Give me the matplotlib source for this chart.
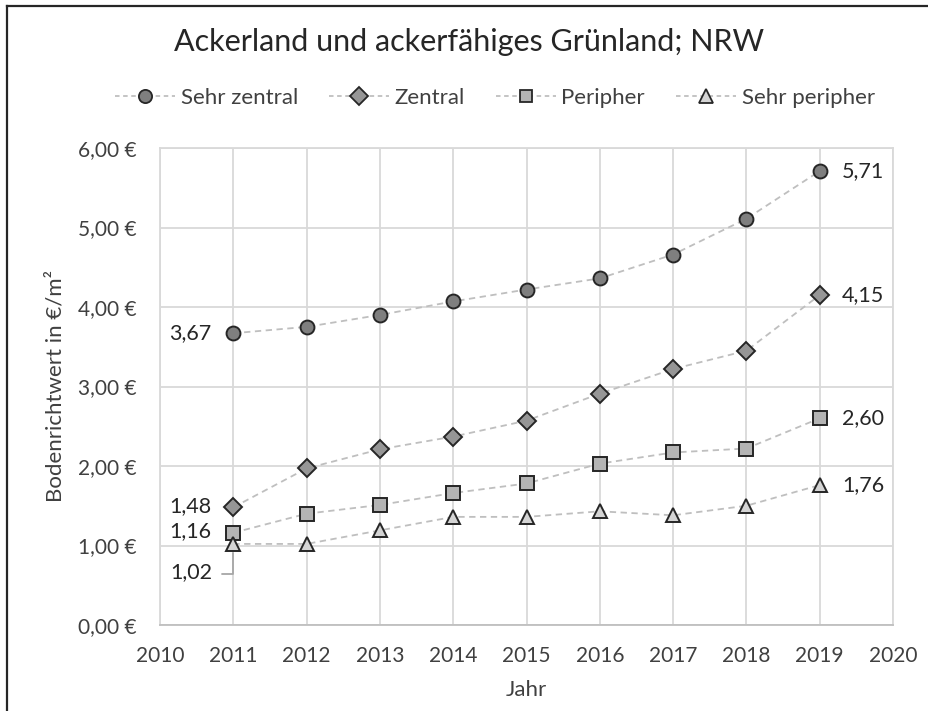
import matplotlib
matplotlib.use('Agg')
import matplotlib.pyplot as plt
from matplotlib.lines import Line2D

plt.rcParams['font.family'] = ['Lato', 'DejaVu Sans']

jahre = [2011, 2012, 2013, 2014, 2015, 2016, 2017, 2018, 2019]
sehr_zentral = [3.67, 3.75, 3.90, 4.07, 4.22, 4.36, 4.66, 5.11, 5.71]
zentral = [1.48, 1.97, 2.21, 2.37, 2.57, 2.91, 3.22, 3.45, 4.15]
peripher = [1.16, 1.40, 1.51, 1.66, 1.78, 2.03, 2.17, 2.22, 2.60]
sehr_peripher = [1.02, 1.02, 1.19, 1.36, 1.36, 1.43, 1.38, 1.50, 1.76]

namen = ['Sehr zentral', 'Zentral', 'Peripher', 'Sehr peripher']
x_ticks = list(range(2010, 2021))
y_ticks = [0, 1, 2, 3, 4, 5, 6]

text_col = '#404040'
grid_col = '#d9d9d9'
line_col = '#bfbfbf'
edge_col = '#262626'

fig = plt.figure(figsize=(9.29, 7.11), dpi=100)
ax = fig.add_axes([160/929, 86/711, 733/929, 477/711])

stile = [
    (sehr_zentral, 'o', '#7f7f7f', 10),
    (zentral, 'D', '#969696', 9.5),
    (peripher, 's', '#b4b4b4', 9.5),
    (sehr_peripher, '^', '#d4d4d4', 10.5),
]

handles = []
for (werte, m, fc, ms), name in zip(stile, namen):
    ax.plot(jahre, werte, linestyle=(0, (3.5, 2.5)), color=line_col, lw=1.3,
            marker=m, markersize=ms, markerfacecolor=fc,
            markeredgecolor=edge_col, markeredgewidth=1.4, zorder=3)
    handles.append(Line2D([0], [0], linestyle=(0, (2.5, 2)), color=line_col, lw=1.3,
                          marker=m, markersize=ms * 0.95, markerfacecolor=fc,
                          markeredgecolor=edge_col, markeredgewidth=1.3, label=name))

ax.set_xlim(2010, 2020)
ax.set_ylim(0, 6)
ax.set_xticks(x_ticks)
ax.set_yticks(y_ticks)
ax.set_yticklabels([f'{v:.2f} €'.replace('.', ',') for v in y_ticks])
ax.tick_params(length=0, labelsize=15, colors=text_col)
ax.tick_params(axis='y', pad=17)
ax.tick_params(axis='x', pad=15)
ax.grid(True, color=grid_col, lw=1.3)
ax.set_axisbelow(True)
for s in ['top', 'right', 'left']:
    ax.spines[s].set_color(grid_col)
    ax.spines[s].set_linewidth(1.3)
ax.spines['bottom'].set_color('#bfbfbf')
ax.spines['bottom'].set_linewidth(1.3)

ax.set_xlabel('Jahr', fontsize=16, color=text_col, labelpad=10)
ax.set_ylabel('Bodenrichtwert in €/m²', fontsize=16, color=text_col, labelpad=9)

def fmt(v):
    return f'{v:.2f}'.replace('.', ',')

lab = dict(fontsize=15.5, color=edge_col, va='center')
# Werte am Anfang (links)
ax.annotate(fmt(sehr_zentral[0]), (jahre[0], sehr_zentral[0]), xytext=(-16, 0),
            textcoords='offset points', ha='right', **lab)
ax.annotate(fmt(zentral[0]), (jahre[0], zentral[0]), xytext=(-16, 1),
            textcoords='offset points', ha='right', **lab)
ax.annotate(fmt(peripher[0]), (jahre[0], peripher[0]), xytext=(-16, 1),
            textcoords='offset points', ha='right', **lab)
ax.annotate(fmt(sehr_peripher[0]), (jahre[0], sehr_peripher[0]), xytext=(-15, -20),
            textcoords='offset points', ha='right', **lab)
# Fuehrungslinie zu 1,02
ax.annotate('', (jahre[0], sehr_peripher[0] - 0.08), xytext=(-10, -17),
            textcoords='offset points',
            arrowprops=dict(arrowstyle='-', color='#a6a6a6', lw=1.3,
                            connectionstyle='angle,angleA=0,angleB=90,rad=0'))
# Werte am Ende (rechts)
for werte in [sehr_zentral, zentral, peripher, sehr_peripher]:
    ax.annotate(fmt(werte[-1]), (jahre[-1], werte[-1]), xytext=(16, 0),
                textcoords='offset points', ha='left', **lab)

fig.text(469/929, 1 - 42/711, 'Ackerland und ackerfähiges Grünland; NRW',
         ha='center', va='center', fontsize=22, color=edge_col)
fig.legend(handles=handles, loc='center', bbox_to_anchor=(495/929, 1 - 98/711),
           ncol=4, frameon=False, fontsize=16, handlelength=2.7,
           columnspacing=1.4, handletextpad=0.25, labelcolor=text_col)

# Rahmen oben und links
fig.add_artist(Line2D([7/929, 7/929], [0, 1 - 6/711], color='#262626', lw=1.6,
                      transform=fig.transFigure))
fig.add_artist(Line2D([7/929, 1], [1 - 6/711, 1 - 6/711], color='#262626', lw=1.6,
                      transform=fig.transFigure))

fig.savefig('out.png', dpi=100, facecolor='white')
